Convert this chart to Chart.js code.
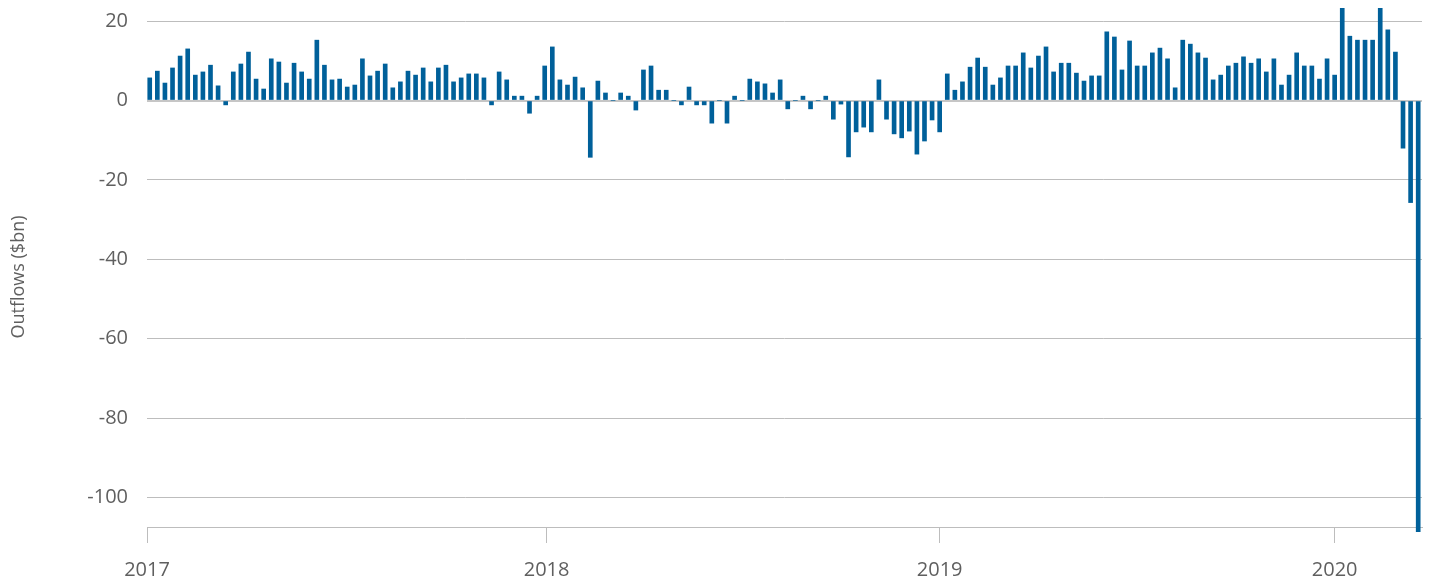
<!DOCTYPE html>
<html>
<head>
<meta charset="utf-8">
<script src="https://cdn.jsdelivr.net/npm/chart.js@4/dist/chart.umd.min.js"></script>
<style>
  html, body { margin: 0; padding: 0; background: #fff; }
  #wrap { width: 1431px; height: 582px; }
</style>
</head>
<body>
<div id="wrap"><canvas id="chart"></canvas></div>
<script>
// weekly outflows ($bn), Jan 2017 -> Mar 2020
const outflows = [
  5.7, 7.4, 4.4, 8.2, 11.2, 13.0, 6.4, 7.2, 8.9, 3.7, -1.1, 7.2, 9.2, 12.2, 5.4, 2.9,
  10.5, 9.7, 4.4, 9.4, 7.2, 5.4, 15.2, 8.9, 5.2, 5.4, 3.4, 3.9, 10.5, 6.2, 7.4, 9.2,
  3.2, 4.7, 7.4, 6.4, 8.2, 4.7, 8.2, 8.9, 4.7, 5.7, 6.7, 6.7, 5.7, -1.1, 7.2, 5.2,
  1.1, 1.1, -3.2, 1.1, 8.7,
  // 2018
  13.5, 5.2, 3.9, 5.9, 3.2, -14.3, 4.9, 1.9, 0, 1.9, 1.1, -2.4, 7.7, 8.7, 2.6, 2.6,
  0, -1.1, 3.4, -1.1, -1.1, -5.7, 0, -5.7, 1.1, 0, 5.4, 4.7, 4.2, 1.9, 5.2, -2.1,
  0, 1.1, -2.1, 0, 1.1, -4.7, -0.9, -14.2, -7.9, -6.7, -7.9, 5.2, -4.7, -8.4, -9.4, -7.7,
  -13.5, -10.2, -4.9, -7.9,
  // 2019
  6.7, 2.6, 4.7, 8.4, 10.7, 8.4, 3.9, 5.7, 8.7, 8.7, 12.0, 8.2, 11.2, 13.5, 7.2, 9.4,
  9.4, 6.9, 4.9, 6.2, 6.2, 17.3, 16.0, 7.7, 15.0, 8.7, 8.7, 12.0, 13.2, 10.5, 3.2, 15.2,
  14.2, 12.0, 10.7, 5.2, 6.4, 8.7, 9.4, 11.0, 9.4, 10.5, 7.2, 10.5, 3.9, 6.4, 12.0, 8.7,
  8.7, 5.4, 10.5,
  // 2020
  6.4, 26, 16.2, 15.2, 15.2, 15.2, 26, 17.8, 12.2, -12.0, -25.7, -108.6
];

const yearLabels = ["2017", "2018", "2019", "2020"];
const yearTickAt = [-0.36, 52.25, 104, 156];
const yTicks = [-100, -80, -60, -40, -20, 0, 20];
const yTitle = "Outflows ($bn)";

const BLUE = "#00609a";
const GRID = "#bdbdbd";
const TEXT = "#5f5f5f";
const FONT = "'Open Sans', 'Noto Sans', sans-serif";

// axis title drawn by hand so it can sit where the original has it
const yTitlePlugin = {
  id: "yTitle",
  afterDraw(chart) {
    const c = chart.ctx;
    c.save();
    c.translate(18.5, 277);
    c.rotate(-Math.PI / 2);
    c.font = "18px " + FONT;
    c.fillStyle = TEXT;
    c.textAlign = "center";
    c.textBaseline = "middle";
    c.fillText(yTitle, 0, 0);
    c.restore();
  },
};

new Chart(document.getElementById("chart"), {
  type: "bar",
  data: {
    datasets: [{
      data: outflows.map((v, i) => ({ x: i, y: v })),
      backgroundColor: BLUE,
      borderWidth: 0,
      barThickness: 4,
      clip: { left: 4, top: 0, right: 4, bottom: 5 },
    }],
  },
  plugins: [yTitlePlugin],
  options: {
    responsive: true,
    maintainAspectRatio: false,
    animation: false,
    layout: { padding: { top: 8, right: 9, bottom: 0, left: 0 } },
    plugins: { legend: { display: false }, tooltip: { enabled: false } },
    scales: {
      x: {
        type: "linear",
        offset: false,
        min: -0.36,
        max: 167.5,
        afterBuildTicks: (s) => { s.ticks = yearTickAt.map((v) => ({ value: v })); },
        afterFit: (s) => { s.height = 55; s.paddingLeft = 0; s.paddingRight = 0; },
        border: { display: true, color: GRID, width: 1 },
        grid: { display: true, offset: false, drawOnChartArea: false, drawTicks: true, tickLength: 16, color: GRID },
        ticks: {
          autoSkip: false,
          maxRotation: 0,
          padding: 15,
          color: TEXT,
          font: { family: FONT, size: 20 },
          callback: (v, i) => yearLabels[i],
        },
      },
      y: {
        min: -107.4,
        max: 23.3,
        afterBuildTicks: (s) => { s.ticks = yTicks.map((v) => ({ value: v })); },
        afterFit: (s) => { s.width = 147; s.paddingTop = 0; s.paddingBottom = 0; },
        border: { display: false },
        grid: {
          drawTicks: false,
          color: (c) => (c.tick && c.tick.value === 0 ? "#c6c6c6" : GRID),
          lineWidth: (c) => (c.tick && c.tick.value === 0 ? 2 : 1),
        },
        ticks: {
          padding: 19,
          color: TEXT,
          font: { family: FONT, size: 20 },
        },
      },
    },
  },
});
</script>
</body>
</html>
